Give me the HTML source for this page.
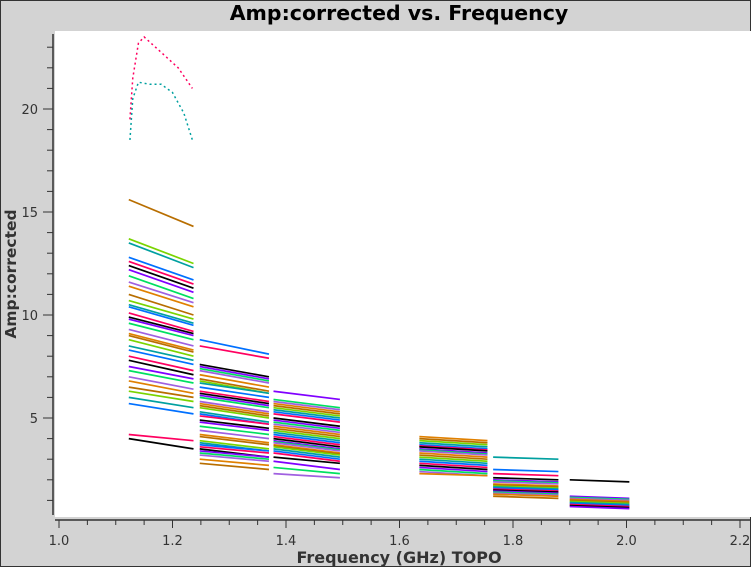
<!DOCTYPE html>
<html><head><meta charset="utf-8">
<style>
html,body{margin:0;padding:0;background:#d3d3d3;}
body{width:751px;height:567px;overflow:hidden;position:relative;font-family:"DejaVu Sans","Liberation Sans",sans-serif;}
svg{position:absolute;left:0;top:0;}
</style></head>
<body>
<svg id="chart" width="751" height="567">
  <rect x="0.5" y="0.5" width="750" height="566" fill="#d3d3d3" stroke="#333"/>
  <rect x="55" y="31" width="696" height="486" fill="#fff"/>
  <text x="399" y="20" text-anchor="middle" font-size="20.5" font-weight="bold" fill="#000">Amp:corrected vs. Frequency</text>
  <text x="399" y="563" text-anchor="middle" font-size="16" font-weight="bold" fill="#333">Frequency (GHz) TOPO</text>
  <text transform="translate(16,274) rotate(-90)" text-anchor="middle" font-size="15.5" font-weight="bold" fill="#333">Amp:corrected</text>
  <g id="axes"></g>
  <g id="marks"></g>
</svg>
<script>
const xTicks=[1.0,1.2,1.4,1.6,1.8,2.0,2.2];
const yTicks=[5,10,15,20];
const spwRanges=[[1.123,1.237],[1.248,1.37],[1.378,1.495],[1.635,1.755],[1.765,1.88],[1.9,2.005]];
const spw0Start=[15.6,13.7,13.5,12.8,12.6,12.4,12.2,11.9,11.6,11.4,11.0,10.7,10.5,10.4,10.1,9.9,9.8,9.6,9.3,9.1,9.0,8.8,8.5,8.3,8.0,7.8,7.5,7.3,7.0,6.8,6.5,6.3,6.0,5.7,4.2,4.0];
const spw0End=[14.3,12.5,12.3,11.7,11.5,11.3,11.1,10.8,10.6,10.4,10.0,9.8,9.6,9.5,9.2,9.1,9.0,8.8,8.5,8.3,8.2,8.0,7.8,7.6,7.3,7.1,6.9,6.7,6.4,6.2,6.0,5.8,5.5,5.2,3.9,3.5];
const spw1Start=[8.8,8.5,7.6,7.5,7.4,7.3,7.1,6.9,6.8,6.7,6.5,6.3,6.2,6.1,6.0,5.8,5.7,5.6,5.5,5.3,5.2,5.1,4.9,4.8,4.6,4.4,4.2,4.1,3.9,3.8,3.7,3.6,3.5,3.4,3.3,3.2,3.0,2.8];
const spw1End=[8.1,7.9,7.0,6.9,6.8,6.7,6.5,6.3,6.2,6.2,6.0,5.8,5.7,5.6,5.5,5.3,5.2,5.1,5.0,4.8,4.7,4.7,4.5,4.4,4.2,4.0,3.8,3.7,3.5,3.4,3.4,3.3,3.1,3.1,3.0,2.9,2.7,2.5];
const spw2Start=[6.3,5.9,5.8,5.7,5.6,5.5,5.4,5.3,5.2,5.0,4.9,4.8,4.7,4.6,4.5,4.4,4.3,4.2,4.1,4.0,3.9,3.85,3.8,3.7,3.65,3.6,3.5,3.4,3.3,3.1,2.9,2.6,2.3];
const spw2End=[5.9,5.5,5.4,5.3,5.2,5.1,5.0,4.9,4.8,4.6,4.5,4.4,4.3,4.2,4.1,4.0,3.9,3.8,3.7,3.6,3.5,3.45,3.4,3.3,3.25,3.2,3.1,3.0,2.9,2.8,2.5,2.3,2.1];
const spw3Start=[4.1,4.0,3.9,3.8,3.7,3.65,3.6,3.5,3.45,3.4,3.3,3.2,3.1,3.0,2.9,2.8,2.7,2.6,2.5,2.4,2.3];
const spw3End=[3.9,3.8,3.7,3.6,3.5,3.45,3.4,3.3,3.25,3.2,3.1,3.0,2.9,2.8,2.7,2.6,2.5,2.4,2.3,2.2,2.2];
const spw4Start=[3.1,2.5,2.3,2.1,2.0,1.95,1.9,1.8,1.75,1.7,1.65,1.6,1.55,1.5,1.45,1.4,1.35,1.3,1.2];
const spw4End=[3.0,2.4,2.2,2.0,1.9,1.85,1.8,1.7,1.65,1.6,1.55,1.5,1.45,1.4,1.35,1.3,1.25,1.2,1.1];
const spw5Start=[2.0,1.2,1.15,1.1,1.05,1.0,0.95,0.9,0.85,0.8,0.75,0.7];
const spw5End=[1.9,1.1,1.05,1.0,0.95,0.9,0.85,0.8,0.75,0.7,0.65,0.6];
const arcMagFreq=[1.125,1.13,1.14,1.15,1.17,1.19,1.21,1.23,1.235];
const arcMagAmp=[19.5,21.5,23.2,23.5,23.0,22.5,22.0,21.2,21.0];
const arcTealFreq=[1.125,1.13,1.14,1.16,1.18,1.2,1.22,1.235];
const arcTealAmp=[18.5,20.5,21.3,21.2,21.2,20.8,19.8,18.5];

const colors=["#b86e00","#7ad400","#00a0a0","#0070ff","#ff0060","#000000","#8000ff","#00e060","#a060e0","#e08000"];
const NS="http://www.w3.org/2000/svg";
function X(f){return 59+(f-1.0)*567.5;}
function Y(v){return 109+(20-v)*20.6;}
const axes=document.getElementById('axes');
const marks=document.getElementById('marks');
function mk(tag,attrs,parent){const e=document.createElementNS(NS,tag);for(const k in attrs)e.setAttribute(k,attrs[k]);parent.appendChild(e);return e;}

let ax=mk('line',{x1:55,y1:520,x2:751,y2:520,stroke:'#333','stroke-width':1.5},axes);


let ay=mk('line',{x1:53,y1:34,x2:53,y2:515,stroke:'#333','stroke-width':1.5},axes);


for(let k=0;k<=24;k++){
  const f=1.0+k*0.05;
  const t=mk('line',{x1:X(f),y1:520,x2:X(f),y2:525,stroke:'#333'},axes);
  
  
}
xTicks.forEach(v=>{
  const t=mk('line',{x1:X(v),y1:520,x2:X(v),y2:528,stroke:'#333'},axes);
  
  
  const l=mk('text',{x:X(v),y:545,'text-anchor':'middle','font-size':13,fill:'#333'},axes);
  l.textContent=v.toFixed(1);
  
  
});
for(let v=1;v<=23;v++){
  const t=mk('line',{x1:47,y1:Y(v),x2:53,y2:Y(v),stroke:'#333'},axes);
  
  
}
yTicks.forEach(v=>{
  const t=mk('line',{x1:43,y1:Y(v),x2:53,y2:Y(v),stroke:'#333'},axes);
  
  
  const l=mk('text',{x:38,y:Y(v)+5,'text-anchor':'end','font-size':13,fill:'#333'},axes);
  l.textContent=String(v);
  
  
});

const spwStarts=[spw0Start,spw1Start,spw2Start,spw3Start,spw4Start,spw5Start];
const spwEnds=[spw0End,spw1End,spw2End,spw3End,spw4End,spw5End];
spwStarts.forEach((st,s)=>{
  const r=spwRanges[s];
  st.forEach((a,i)=>{
    const b=spwEnds[s][i];
    const ln=mk('line',{x1:X(r[0]),y1:Y(a),x2:X(r[1]),y2:Y(b),stroke:colors[(i+s*3)%colors.length],'stroke-width':1.7},marks);
    
    
  });
});
function arc(fr,am,col,name){
  const pts=fr.map((f,i)=>X(f)+','+Y(am[i])).join(' ');
  const p=mk('polyline',{points:pts,fill:'none',stroke:col,'stroke-width':1.5,'stroke-dasharray':'2 3'},marks);
  
  
}
arc(arcMagFreq,arcMagAmp,'#ff0060','high-amp-magenta-points');
arc(arcTealFreq,arcTealAmp,'#00a0a0','high-amp-teal-points');
</script>
</body></html>
